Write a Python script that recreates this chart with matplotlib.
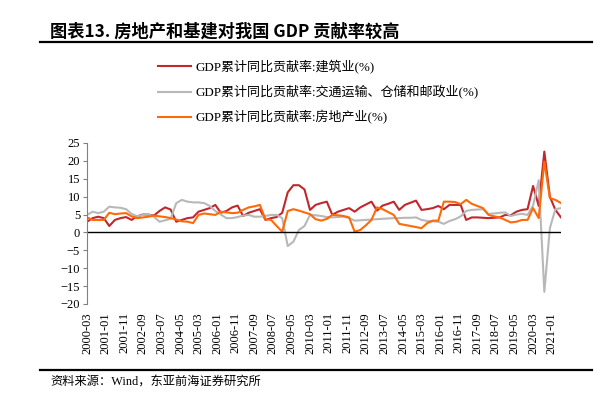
import numpy as np
import pandas as pd
import matplotlib
matplotlib.use("Agg")
import matplotlib.pyplot as plt
import matplotlib.dates as mdates

# quarterly data, 2000Q1 - 2021Q2
dates = pd.date_range("2000-03-01", periods=86, freq="3MS")

construction = [3.0, 4.0, 4.4, 4.0, 1.8, 3.5, 4.0, 4.3, 3.5, 4.5,
                5.0, 5.0, 4.7, 6.0, 7.0, 6.4, 3.0, 3.5, 4.0, 4.2,
                5.8, 6.3, 6.8, 7.7, 5.5, 6.0, 7.0, 7.5, 4.6, 5.5,
                6.0, 6.5, 3.5, 4.0, 4.3, 5.5, 11.2, 13.2, 13.2, 12.0,
                6.3, 7.7, 8.2, 8.6, 4.9, 5.8, 6.3, 6.8, 5.8, 7.0,
                7.8, 8.6, 6.1, 7.5, 8.0, 8.6, 6.3, 7.7, 8.3, 8.9,
                6.3, 6.5, 6.8, 7.4, 6.5, 7.7, 7.7, 7.7, 3.5, 4.2,
                4.2, 4.1, 4.0, 4.1, 4.2, 4.9, 4.8, 5.8, 6.3, 6.5,
                13.0, 7.4, 22.6, 10.0, 6.3, 4.2]

transport = [4.9, 5.8, 5.4, 5.8, 7.2, 7.0, 6.9, 6.5, 5.2, 4.5,
             4.9, 5.1, 4.4, 3.0, 3.4, 3.8, 8.2, 9.1, 8.6, 8.4,
             8.4, 8.2, 7.4, 6.0, 5.0, 4.0, 4.0, 4.3, 4.7, 4.9,
             4.4, 4.4, 4.6, 4.9, 4.9, 4.0, -3.8, -2.6, 0.7, 1.8,
             4.9, 4.8, 4.6, 4.3, 4.2, 4.3, 4.4, 4.0, 3.3, 3.4,
             3.5, 3.6, 3.7, 3.8, 3.9, 4.0, 4.0, 4.1, 4.1, 4.2,
             3.5, 3.2, 3.1, 3.0, 2.4, 3.2, 3.7, 4.5, 6.0, 6.3,
             6.4, 6.5, 5.2, 5.3, 5.5, 5.6, 4.6, 5.0, 5.2, 4.9,
             7.5, 14.6, -16.6, 1.2, 6.5, 6.8]

real_estate = [4.2, 3.5, 3.5, 3.5, 5.5, 5.1, 5.3, 5.4, 4.5, 4.0,
               4.2, 4.4, 4.7, 4.5, 4.3, 4.0, 3.6, 3.1, 3.0, 2.6,
               4.9, 5.3, 5.1, 4.9, 5.8, 5.6, 5.4, 5.5, 6.3, 7.0,
               7.3, 7.7, 3.7, 3.5, 1.8, 0.2, 6.0, 6.5, 6.1, 5.6,
               5.1, 3.7, 3.3, 3.8, 4.9, 4.8, 4.6, 4.2, 0.2, 0.7,
               2.0, 3.5, 7.0, 6.5, 5.7, 4.9, 2.4, 2.1, 1.8, 1.5,
               1.2, 2.6, 3.3, 3.3, 8.6, 8.6, 8.5, 7.9, 9.1, 8.0,
               7.4, 6.8, 4.9, 4.5, 4.2, 3.5, 2.8, 3.0, 3.5, 3.5,
               6.8, 4.0, 19.8, 9.6, 9.1, 8.2]

labels = ["GDP累计同比贡献率:建筑业(%)",
          "GDP累计同比贡献率:交通运输、仓储和邮政业(%)",
          "GDP累计同比贡献率:房地产业(%)"]
colors = ["#C0282E", "#B8B8B8", "#FF6A07"]

tick_dates = pd.date_range("2000-03-01", periods=26, freq="10MS")

mixed = ["Liberation Serif", "Noto Sans CJK SC"]
plt.rcParams["font.family"] = mixed

fig = plt.figure(figsize=(6.08, 3.95), dpi=100)
ax = fig.add_axes([87 / 608, 1 - 304 / 395, (561 - 87) / 608, (304 - 143) / 395])

for series, lab, col in zip([construction, transport, real_estate], labels, colors):
    ax.plot(dates, series, color=col, lw=1.5, label=lab)

ax.axhline(0, color="black", lw=1.0)
ax.set_ylim(-20, 25)
ax.set_yticks(np.arange(-20, 26, 5))
ax.set_xlim(dates[0], dates[-1])
ax.set_xticks(tick_dates)
ax.xaxis.set_major_formatter(mdates.DateFormatter("%Y-%m"))
ax.tick_params(axis="x", length=0, pad=6, labelsize=9, rotation=90)
ax.tick_params(axis="y", length=3, width=0.8, color="#808080", labelsize=9, pad=2)
for s in ["top", "right", "bottom"]:
    ax.spines[s].set_visible(False)
ax.spines["left"].set_color("#808080")
ax.spines["left"].set_linewidth(0.8)

leg = ax.legend(loc="upper left", bbox_to_anchor=(158 / 608, 1 - 60 / 395),
                bbox_transform=fig.transFigure, frameon=False, fontsize=9.4,
                handlelength=2.5, handletextpad=0.35, labelspacing=0.86,
                borderpad=0, borderaxespad=0)

# title and rules
fig.text(50 / 608, 1 - 32 / 395, "图表13. 房地产和基建对我国 GDP 贡献率较高",
         fontsize=12.4, fontweight="bold", va="center", ha="left",
         family=["Noto Sans CJK SC", "DejaVu Sans"])
fig.add_artist(plt.Line2D([40 / 608, 592 / 608], [1 - 42 / 395, 1 - 42 / 395],
                          color="black", lw=1.6, transform=fig.transFigure))
fig.add_artist(plt.Line2D([40 / 608, 592 / 608], [1 - 370 / 395, 1 - 370 / 395],
                          color="black", lw=1.6, transform=fig.transFigure))
fig.text(50 / 608, 1 - 383 / 395, "资料来源：Wind，东亚前海证券研究所",
         fontsize=8.8, va="center", ha="left")

fig.savefig("out.png", dpi=100)
